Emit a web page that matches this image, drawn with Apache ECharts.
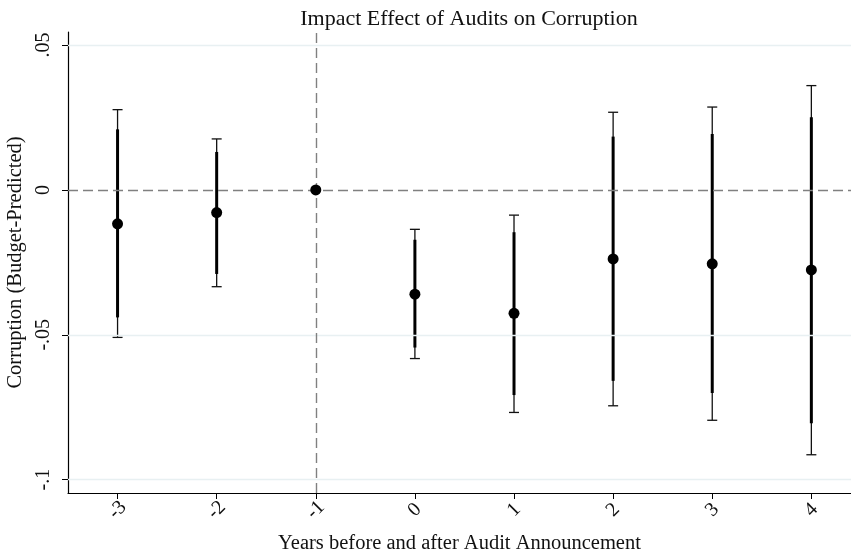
<!DOCTYPE html>
<html><head><meta charset="utf-8">
<script src="https://cdn.jsdelivr.net/npm/echarts@6/dist/echarts.min.js"></script>
<style>html,body{margin:0;padding:0;background:#fff}#c{width:851px;height:556px}</style>
</head><body><div id="c"></div>
<script>
const years   = [-3, -2, -1, 0, 1, 2, 3, 4];
const coef    = [-0.0117, -0.0078, 0.0000, -0.0360, -0.0426, -0.0238, -0.0255, -0.0276];
const ci95Lo  = [-0.0509, -0.0334, null, -0.0582, -0.0768, -0.0745, -0.0795, -0.0914];
const ci95Hi  = [ 0.0277,  0.0176, null, -0.0136, -0.0087,  0.0268,  0.0286,  0.0360];
const ci90Lo  = [-0.0440, -0.0290, null, -0.0544, -0.0708, -0.0659, -0.0701, -0.0805];
const ci90Hi  = [ 0.0209,  0.0131, null, -0.0172, -0.0146,  0.0184,  0.0193,  0.0251];
const yTicks  = [-0.1, -0.05, 0, 0.05];
const yTickLabels = ['-.1', '-.05', '0', '.05'];
const gridVals = [-0.1, -0.05, 0.05];

const FONT = '"Liberation Serif", "Times New Roman", serif';
const chart = echarts.init(document.getElementById('c'), null, {renderer: 'canvas'});

const barData = years.map((y, i) => [y, ci95Lo[i], ci95Hi[i], ci90Lo[i], ci90Hi[i]]).filter(d => d[1] !== null);

chart.setOption({
  animation: false,
  title: {
    text: 'Impact Effect of Audits on Corruption',
    left: 464, top: 3, textAlign: 'center',
    textStyle: {fontFamily: FONT, fontSize: 22, fontWeight: 'normal', color: '#111'}
  },
  grid: {left: 68, right: 0, top: 32, bottom: 63, containLabel: false, outerBoundsMode: 'none'},
  xAxis: {
    type: 'value', min: -3.5, max: 4.4,
    name: 'Years before and after Audit Announcement',
    nameLocation: 'middle', nameGap: 40,
    nameTextStyle: {fontFamily: FONT, fontSize: 20.5, color: '#111'},
    axisLine: {onZero: false, lineStyle: {color: '#000', width: 1.2}},
    axisTick: {show: true, length: 6, customValues: years, lineStyle: {color: '#000'}},
    axisLabel: {customValues: years, rotate: 45, fontFamily: FONT, fontSize: 20, color: '#111', margin: 17,
      align: 'center', verticalAlign: 'middle',
      formatter: v => String(v)},
    splitLine: {show: false}
  },
  yAxis: {
    type: 'value', min: -0.1046, max: 0.0545,
    name: 'Corruption (Budget-Predicted)',
    nameLocation: 'middle', nameGap: 46, nameRotate: 90,
    nameTextStyle: {fontFamily: FONT, fontSize: 20.5, color: '#111', verticalAlign: 'middle'},
    axisLine: {show: true, onZero: false, lineStyle: {color: '#000', width: 1.2}},
    axisTick: {show: true, length: 6, customValues: yTicks, lineStyle: {color: '#000'}},
    axisLabel: {customValues: yTicks, rotate: 90, fontFamily: FONT, fontSize: 20, color: '#111', margin: 24,
      align: 'center', verticalAlign: 'middle',
      formatter: v => { const i = yTicks.findIndex(t => Math.abs(t - v) < 1e-9); return i >= 0 ? yTickLabels[i] : ''; }},
    splitLine: {show: false}
  },
  series: [
    {
      type: 'line', data: [], silent: true,
      markLine: {
        silent: true, symbol: 'none', label: {show: false},
        lineStyle: {color: '#e8f0f2', width: 1.3, type: 'solid'},
        data: gridVals.map(v => ({yAxis: v}))
      }
    },
    {
      type: 'line', data: [], silent: true,
      markLine: {
        silent: true, symbol: 'none', label: {show: false},
        lineStyle: {color: '#808080', width: 1.4, type: [10, 5]},
        data: [{yAxis: 0}, {xAxis: -1}]
      }
    },
    {
      type: 'custom', silent: true,
      data: barData,
      encode: {x: 0, y: [1, 2]},
      renderItem: function (params, api) {
        const x = api.value(0);
        const lo95 = api.coord([x, api.value(1)]);
        const hi95 = api.coord([x, api.value(2)]);
        const lo90 = api.coord([x, api.value(3)]);
        const hi90 = api.coord([x, api.value(4)]);
        const cw = 5;
        const thin = {stroke: '#111', lineWidth: 1.3};
        const thick = {stroke: '#000', lineWidth: 3};
        return {
          type: 'group',
          children: [
            {type: 'line', shape: {x1: lo95[0], y1: lo95[1], x2: hi95[0], y2: hi95[1]}, style: thin},
            {type: 'line', shape: {x1: hi95[0] - cw, y1: hi95[1], x2: hi95[0] + cw, y2: hi95[1]}, style: thin},
            {type: 'line', shape: {x1: lo95[0] - cw, y1: lo95[1], x2: lo95[0] + cw, y2: lo95[1]}, style: thin},
            {type: 'line', shape: {x1: lo90[0], y1: lo90[1], x2: hi90[0], y2: hi90[1]}, style: thick}
          ]
        };
      },
      z: 3
    },
    {
      type: 'scatter', silent: true,
      data: years.map((y, i) => [y, coef[i]]),
      symbol: 'circle', symbolSize: 11,
      itemStyle: {color: '#000', opacity: 1},
      z: 5
    }
  ]
});
</script>
</body></html>
